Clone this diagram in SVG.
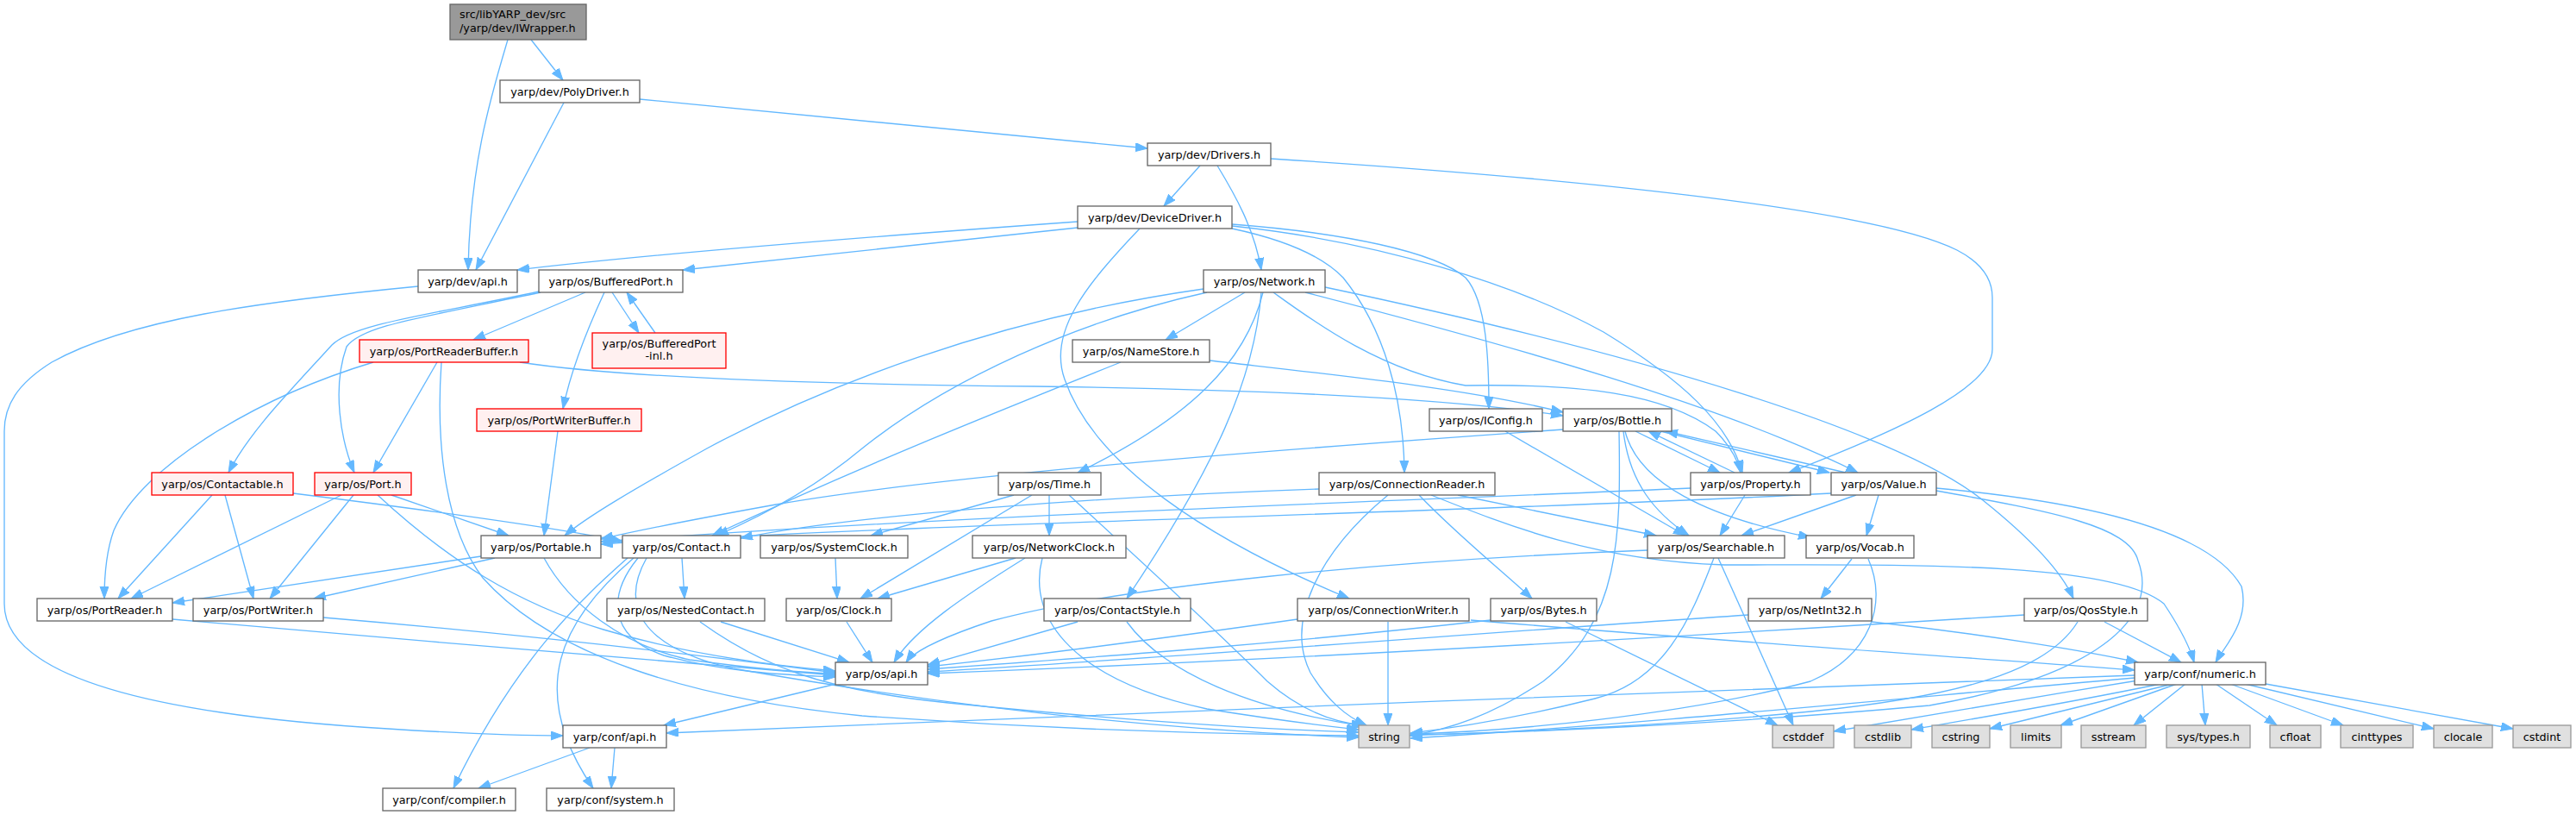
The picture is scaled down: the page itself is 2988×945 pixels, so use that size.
<svg xmlns="http://www.w3.org/2000/svg" width="2988" height="945" viewBox="0 0 2988 945">
<style>
.n rect{fill:#fff;stroke:#666;stroke-width:1.33}
.r rect{fill:#fff0f0;stroke:#f00;stroke-width:1.33}
.x rect{fill:#e0e0e0;stroke:#999;stroke-width:1.33}
.m rect{fill:#999;stroke:#666;stroke-width:1.33}
text{font-family:"DejaVu Sans","Liberation Sans",sans-serif;font-size:12.8px;fill:#000;text-anchor:middle}
.e path{fill:none;stroke:#63b8ff;stroke-width:1.33;marker-end:url(#a)}
</style>
<defs><marker id="a" markerUnits="userSpaceOnUse" markerWidth="16" markerHeight="12" refX="14" refY="5" orient="auto"><path d="M0,0 L14,5 L0,10 z" fill="#63b8ff" stroke="#63b8ff" stroke-width="1"/></marker></defs>
<rect width="2988" height="945" fill="#fff"/>
<g id="edges" class="e">
<path d="M589,46 C570,110 545,190 543,313"/>
<path d="M616,46 L653,93"/>
<path d="M654,119 L552,313"/>
<path d="M742,115 L1331,172"/>
<path d="M1392,192 L1350,239"/>
<path d="M1412,192 C1432,225 1455,265 1463,313"/>
<path d="M1474,184 C1800,205 2170,240 2270,290 C2305,308 2311,330 2311,345 L2311,405 C2311,450 2200,500 2075,548"/>
<path d="M1250,257 C1000,275 750,295 600,313"/>
<path d="M1250,264 L792,313"/>
<path d="M1322,265 C1260,330 1215,385 1235,440 C1270,540 1400,625 1565,694"/>
<path d="M1429,265 C1490,278 1535,298 1558,322 C1605,380 1628,460 1629,548"/>
<path d="M1429,260 C1560,270 1665,292 1700,322 C1725,350 1727,420 1727,474"/>
<path d="M1429,262 C1600,280 1760,330 1860,385 C1950,440 2005,490 2021,548"/>
<path d="M1396,335 C1150,370 950,450 820,520 C730,570 680,600 655,621"/>
<path d="M1400,339 C1250,372 1100,440 1000,520 C940,570 880,600 831,621"/>
<path d="M1444,339 L1352,394"/>
<path d="M1465,339 C1445,420 1380,485 1250,548"/>
<path d="M1463,339 C1455,440 1410,540 1307,694"/>
<path d="M1477,339 C1520,370 1600,430 1700,447 C1830,445 1930,455 1990,500 C2005,515 2015,530 2019,548"/>
<path d="M1514,339 C1750,400 2000,470 2155,548"/>
<path d="M1537,333 C1900,410 2200,500 2300,580 C2350,620 2390,660 2405,694"/>
<path d="M1300,420 C1150,480 1000,540 826,621"/>
<path d="M1403,418 C1550,435 1700,450 1813,478"/>
<path d="M603,420 C700,435 900,445 1200,448 C1500,452 1700,465 1813,482"/>
<path d="M625,338 C500,365 410,375 385,400 C335,455 290,500 265,548"/>
<path d="M627,339 C480,370 420,378 402,402 C385,450 395,510 411,548"/>
<path d="M679,339 L549,394"/>
<path d="M701,339 C682,380 662,430 653,474"/>
<path d="M710,339 L741,386"/>
<path d="M760,386 L727,339"/>
<path d="M433,420 C300,460 165,540 132,615 C123,640 121,670 121,694"/>
<path d="M507,420 L433,548"/>
<path d="M512,420 C505,520 518,615 560,670 C640,760 800,810 1000,830 C1250,848 1450,852 1576,853"/>
<path d="M647,500 L631,621"/>
<path d="M246,574 L137,694"/>
<path d="M261,574 L294,694"/>
<path d="M340,572 C500,592 650,612 722,628"/>
<path d="M396,574 L152,694"/>
<path d="M410,574 L313,694"/>
<path d="M438,574 C520,650 600,700 700,730 C800,760 900,772 969,778"/>
<path d="M454,574 L590,621"/>
<path d="M558,645 L200,699"/>
<path d="M574,647 L364,694"/>
<path d="M631,647 C660,700 720,748 800,765 C880,776 930,780 969,781"/>
<path d="M200,718 C450,740 750,765 969,783"/>
<path d="M375,716 C600,735 800,758 969,780"/>
<path d="M791,647 L794,694"/>
<path d="M740,647 C705,690 705,738 770,760 C850,782 930,783 969,785"/>
<path d="M750,647 C720,700 740,750 850,775 C1050,810 1300,845 1576,855"/>
<path d="M728,647 C680,690 600,760 526,914"/>
<path d="M735,647 C650,720 610,800 688,914"/>
<path d="M836,721 L985,768"/>
<path d="M812,721 C880,770 950,800 1100,815 C1300,835 1450,845 1576,849"/>
<path d="M969,647 L971,694"/>
<path d="M1176,574 L1010,621"/>
<path d="M1217,574 L1217,621"/>
<path d="M1197,574 L998,694"/>
<path d="M1240,574 C1290,620 1400,720 1470,790 C1510,825 1550,838 1582,841"/>
<path d="M1178,647 L1018,694"/>
<path d="M1189,647 C1120,690 1060,730 1037,768"/>
<path d="M1209,647 C1190,720 1250,790 1400,822 C1500,838 1550,843 1576,846"/>
<path d="M982,721 L1012,768"/>
<path d="M1250,721 L1076,771"/>
<path d="M1307,721 C1350,780 1450,822 1582,842"/>
<path d="M1746,500 L1955,621"/>
<path d="M1883,500 C1890,560 1920,595 1959,621"/>
<path d="M1878,500 C1880,620 1880,720 1790,790 C1730,830 1680,846 1635,853"/>
<path d="M1897,500 L1995,548"/>
<path d="M2012,548 L1912,500"/>
<path d="M1926,500 L2122,548"/>
<path d="M2141,548 L1932,500"/>
<path d="M1885,500 C1900,560 1980,600 2100,623"/>
<path d="M1813,498 C1500,520 1100,550 900,585 C800,603 740,615 697,625"/>
<path d="M1530,567 C1300,575 1000,595 859,624"/>
<path d="M1961,566 C1600,582 1100,598 697,628"/>
<path d="M2124,572 C1700,595 1100,605 697,631"/>
<path d="M2024,574 L1995,621"/>
<path d="M2153,574 L2020,621"/>
<path d="M2179,574 L2165,621"/>
<path d="M2246,566 C2400,580 2560,610 2600,680 C2610,720 2580,750 2570,768"/>
<path d="M2246,569 C2380,593 2470,610 2480,650 C2510,730 2400,790 2238,818 C2000,840 1750,850 1636,852"/>
<path d="M2148,648 L2112,694"/>
<path d="M2167,648 C2190,700 2170,760 2100,790 C1950,830 1750,848 1636,851"/>
<path d="M1988,647 C1960,720 1930,790 1850,810 C1750,835 1680,845 1636,850"/>
<path d="M1993,647 L2080,841"/>
<path d="M1911,638 C1600,650 1300,680 1150,720 C1090,740 1060,755 1051,768"/>
<path d="M1816,721 L2062,841"/>
<path d="M1729,719 C1500,745 1300,760 1076,776"/>
<path d="M1610,721 L1610,841"/>
<path d="M1505,718 C1350,740 1200,760 1076,773"/>
<path d="M1706,719 C1950,740 2250,760 2476,777"/>
<path d="M2028,713 C1700,735 1400,760 1076,779"/>
<path d="M2171,721 C2300,735 2420,755 2480,768"/>
<path d="M2348,713 C2000,735 1500,765 1076,781"/>
<path d="M2441,721 L2530,768"/>
<path d="M2410,721 C2380,770 2300,805 2100,825 C1900,845 1700,850 1636,853"/>
<path d="M1646,574 C1690,620 1740,660 1777,694"/>
<path d="M1691,574 L1921,621"/>
<path d="M1610,574 C1530,640 1490,720 1520,780 C1540,812 1560,830 1585,841"/>
<path d="M1660,574 C1750,610 1850,650 2000,655 C2200,655 2450,650 2510,700 C2530,730 2540,750 2545,768"/>
<path d="M2520,793 L2308,845"/>
<path d="M2525,793 L2390,841"/>
<path d="M2535,793 L2475,841"/>
<path d="M2554,793 L2558,841"/>
<path d="M2570,793 L2641,841"/>
<path d="M2587,793 L2718,841"/>
<path d="M2604,793 L2823,845"/>
<path d="M2628,793 L2915,845"/>
<path d="M2506,793 C2400,815 2280,835 2217,846"/>
<path d="M2480,789 C2350,810 2200,835 2127,848"/>
<path d="M2476,786 C2200,810 1900,840 1636,856"/>
<path d="M2476,783 C2000,800 1200,830 773,850"/>
<path d="M970,793 L770,841"/>
<path d="M485,332 C300,350 150,370 60,420 C20,445 5,470 5,500 L5,700 C5,790 200,830 450,845 C560,852 620,853 653,853"/>
<path d="M684,867 L555,914"/>
<path d="M713,867 L709,914"/>
</g>
<g id="n0" class="m"><rect x="522" y="5" width="158" height="41"/><text x="533" y="21" style="text-anchor:start">src/libYARP_dev/src</text><text x="533" y="37" style="text-anchor:start">/yarp/dev/IWrapper.h</text></g>
<g id="n1" class="n"><rect x="580" y="93" width="162" height="26"/><text x="661" y="110.5">yarp/dev/PolyDriver.h</text></g>
<g id="n2" class="n"><rect x="1331" y="166" width="143" height="26"/><text x="1402.5" y="183.5">yarp/dev/Drivers.h</text></g>
<g id="n3" class="n"><rect x="1250" y="239" width="179" height="26"/><text x="1339.5" y="256.5">yarp/dev/DeviceDriver.h</text></g>
<g id="n4" class="n"><rect x="485" y="313" width="115" height="26"/><text x="542.5" y="330.5">yarp/dev/api.h</text></g>
<g id="n5" class="n"><rect x="625" y="313" width="167" height="26"/><text x="708.5" y="330.5">yarp/os/BufferedPort.h</text></g>
<g id="n6" class="n"><rect x="1396" y="313" width="141" height="26"/><text x="1466.5" y="330.5">yarp/os/Network.h</text></g>
<g id="n7" class="r"><rect x="417" y="394" width="196" height="26"/><text x="515" y="411.5">yarp/os/PortReaderBuffer.h</text></g>
<g id="n8" class="r"><rect x="687" y="386" width="155" height="41"/><text x="764.5" y="402.5">yarp/os/BufferedPort</text><text x="764.5" y="417">-inl.h</text></g>
<g id="n9" class="n"><rect x="1244" y="394" width="159" height="26"/><text x="1323.5" y="411.5">yarp/os/NameStore.h</text></g>
<g id="n10" class="r"><rect x="553" y="474" width="191" height="26"/><text x="648.5" y="491.5">yarp/os/PortWriterBuffer.h</text></g>
<g id="n11" class="n"><rect x="1658" y="474" width="131" height="26"/><text x="1723.5" y="491.5">yarp/os/IConfig.h</text></g>
<g id="n12" class="n"><rect x="1813" y="474" width="126" height="26"/><text x="1876" y="491.5">yarp/os/Bottle.h</text></g>
<g id="n13" class="r"><rect x="176" y="548" width="164" height="26"/><text x="258" y="565.5">yarp/os/Contactable.h</text></g>
<g id="n14" class="r"><rect x="365" y="548" width="112" height="26"/><text x="421" y="565.5">yarp/os/Port.h</text></g>
<g id="n15" class="n"><rect x="1158" y="548" width="119" height="26"/><text x="1217.5" y="565.5">yarp/os/Time.h</text></g>
<g id="n16" class="n"><rect x="1530" y="548" width="204" height="26"/><text x="1632" y="565.5">yarp/os/ConnectionReader.h</text></g>
<g id="n17" class="n"><rect x="1961" y="548" width="139" height="26"/><text x="2030.5" y="565.5">yarp/os/Property.h</text></g>
<g id="n18" class="n"><rect x="2124" y="548" width="122" height="26"/><text x="2185" y="565.5">yarp/os/Value.h</text></g>
<g id="n19" class="n"><rect x="558" y="621" width="139" height="26"/><text x="627.5" y="638.5">yarp/os/Portable.h</text></g>
<g id="n20" class="n"><rect x="722" y="621" width="137" height="26"/><text x="790.5" y="638.5">yarp/os/Contact.h</text></g>
<g id="n21" class="n"><rect x="882" y="621" width="171" height="26"/><text x="967.5" y="638.5">yarp/os/SystemClock.h</text></g>
<g id="n22" class="n"><rect x="1128" y="621" width="178" height="26"/><text x="1217" y="638.5">yarp/os/NetworkClock.h</text></g>
<g id="n23" class="n"><rect x="1911" y="621" width="159" height="26"/><text x="1990.5" y="638.5">yarp/os/Searchable.h</text></g>
<g id="n24" class="n"><rect x="2095" y="621" width="125" height="26"/><text x="2157.5" y="638.5">yarp/os/Vocab.h</text></g>
<g id="n25" class="n"><rect x="43" y="694" width="157" height="26"/><text x="121.5" y="711.5">yarp/os/PortReader.h</text></g>
<g id="n26" class="n"><rect x="224" y="694" width="151" height="26"/><text x="299.5" y="711.5">yarp/os/PortWriter.h</text></g>
<g id="n27" class="n"><rect x="704" y="694" width="183" height="26"/><text x="795.5" y="711.5">yarp/os/NestedContact.h</text></g>
<g id="n28" class="n"><rect x="912" y="694" width="122" height="26"/><text x="973" y="711.5">yarp/os/Clock.h</text></g>
<g id="n29" class="n"><rect x="1211" y="694" width="170" height="26"/><text x="1296" y="711.5">yarp/os/ContactStyle.h</text></g>
<g id="n30" class="n"><rect x="1505" y="694" width="199" height="26"/><text x="1604.5" y="711.5">yarp/os/ConnectionWriter.h</text></g>
<g id="n31" class="n"><rect x="1729" y="694" width="123" height="26"/><text x="1790.5" y="711.5">yarp/os/Bytes.h</text></g>
<g id="n32" class="n"><rect x="2028" y="694" width="143" height="26"/><text x="2099.5" y="711.5">yarp/os/NetInt32.h</text></g>
<g id="n33" class="n"><rect x="2348" y="694" width="143" height="26"/><text x="2419.5" y="711.5">yarp/os/QosStyle.h</text></g>
<g id="n34" class="n"><rect x="969" y="768" width="107" height="26"/><text x="1022.5" y="785.5">yarp/os/api.h</text></g>
<g id="n35" class="n"><rect x="2476" y="768" width="152" height="26"/><text x="2552" y="785.5">yarp/conf/numeric.h</text></g>
<g id="n36" class="n"><rect x="653" y="841" width="120" height="26"/><text x="713" y="858.5">yarp/conf/api.h</text></g>
<g id="n37" class="x"><rect x="1576" y="841" width="59" height="26"/><text x="1605.5" y="858.5">string</text></g>
<g id="n38" class="x"><rect x="2056" y="841" width="71" height="26"/><text x="2091.5" y="858.5">cstddef</text></g>
<g id="n39" class="x"><rect x="2151" y="841" width="66" height="26"/><text x="2184" y="858.5">cstdlib</text></g>
<g id="n40" class="x"><rect x="2241" y="841" width="67" height="26"/><text x="2274.5" y="858.5">cstring</text></g>
<g id="n41" class="x"><rect x="2332" y="841" width="59" height="26"/><text x="2361.5" y="858.5">limits</text></g>
<g id="n42" class="x"><rect x="2414" y="841" width="75" height="26"/><text x="2451.5" y="858.5">sstream</text></g>
<g id="n43" class="x"><rect x="2513" y="841" width="97" height="26"/><text x="2561.5" y="858.5">sys/types.h</text></g>
<g id="n44" class="x"><rect x="2633" y="841" width="59" height="26"/><text x="2662.5" y="858.5">cfloat</text></g>
<g id="n45" class="x"><rect x="2715" y="841" width="84" height="26"/><text x="2757" y="858.5">cinttypes</text></g>
<g id="n46" class="x"><rect x="2823" y="841" width="68" height="26"/><text x="2857" y="858.5">clocale</text></g>
<g id="n47" class="x"><rect x="2915" y="841" width="67" height="26"/><text x="2948.5" y="858.5">cstdint</text></g>
<g id="n48" class="n"><rect x="444" y="914" width="154" height="26"/><text x="521" y="931.5">yarp/conf/compiler.h</text></g>
<g id="n49" class="n"><rect x="634" y="914" width="148" height="26"/><text x="708" y="931.5">yarp/conf/system.h</text></g>
</svg>
